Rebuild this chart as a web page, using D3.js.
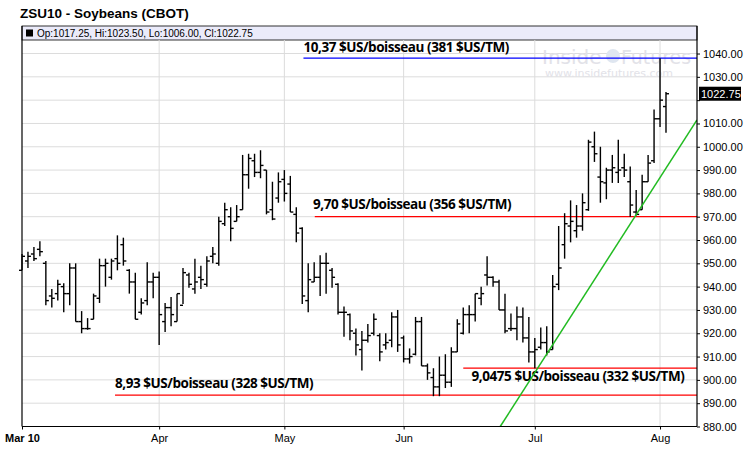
<!DOCTYPE html>
<html><head><meta charset="utf-8">
<script src="https://cdn.jsdelivr.net/npm/d3@7/dist/d3.min.js"></script>
<style>body{margin:0;background:#fff}svg{display:block}</style>
</head><body><svg id="c" width="748" height="449"></svg>
<script>
const opens=[947,951,954,956,950,936,937,940,937,948,925,922,926,935,949,944,952,958,947,942,929,934,942,944,925,931,925,932,945,939,944,941,953,950,967,970,968,973,988,994,989,990,973,978,986,984,971,965,934,942,944,950,947,941,929,928,920,913,917,920,919,915,917,927,918,909,911,925,906,901,897,902,899,912,920,928,928,935,945,944,942,930,922,922,927,918,912,914,916,913,941,958,966,964,966,973,1000,987,984.5,990,989,991,985,972,973,985,994,1012,1017.25];
const highs=[954,955,957,959.5,951,939,943,941.5,950,950,929.5,926.5,937,952,952,952,962,961,947.5,946,935,950.5,946,946.5,933,935.5,937,948,946,952,949,953,957,970,976,974,975,996.5,997,997,998.5,990,985,989,990,987.5,974,965.5,950,950.5,953.5,954.5,948,941.5,931.5,928.5,922,921,924,928.5,920,920,929,930,919,913.5,927,927,907,905,910,911,914,926,931,932,937,940,953,944.5,943,937,928.5,931.5,931,927,918,922.5,923,945,966,971.5,977,975,980,1003,1006.5,1000,991,996.5,1003,997,991.5,981.5,988,996.5,1016,1038,1023.5];
const lows=[947,948,951,953,932,931,934,929,932,925,920,921.5,926,933,940,943,947,949,937,926,928,932,935,915,920.5,923,925,932.5,939.5,937,939,940,950,949,966,959.5,968,973,982,987,986.5,971,968.5,976,976.5,972,959,932.5,929,942,936,937,939.5,928,918.5,917,910.5,904,916,919,908,913,914,912,907.5,907,910.5,906,900,893,893,896.5,897,912,919.5,920,925,932,940.5,940,930,920,921,917,916,907.5,905,913,910.5,913,938.5,952,959,961,964,972.5,993.5,976,977.5,984.5,984.5,987,970,970.5,973,985,993,1008.5,1006];
const closes=[953,953,952,955,934,935,941,937,948,925,922,922,936,949,950,951,950,951,942,926,933,942,944,928,931,928,937,946,941,942,943,951,954,968,973,965,970,988,995,989,992,972,969,985,980,972,963,936,943,944,950,950,944,929,929,921,915,917,919,926,912,916,927,915,909,910,925,906,903,897,902,899,912,924,928,928,937,937,944,942,930,921,922,927,918,912,913,916,912,940,948,967,968,966,976,1002,997,985,990,991,990,990,975,971,985,993,1012,1020,1022.75];
const monthLabels=["Mar 10","Apr","May","Jun","Jul","Aug"];
const monthIdx=[0,23,44,64,86,107];
const yTicks=[880,890,900,910,920,930,940,950,960,970,980,990,1000,1010,1020,1030,1040];
const levels=[{p:1038,start:47.2,color:"#0000ff",label:"10,37 $US/boisseau (381 $US/TM)"},
 {p:970,start:49.1,color:"#ff0000",label:"9,70 $US/boisseau (356 $US/TM)"},
 {p:905,start:74,color:"#ff0000",label:"9,0475 $US/boisseau (332 $US/TM)"},
 {p:893.5,start:15.6,color:"#ff0000",label:"8,93 $US/boisseau (328 $US/TM)"}];
const labelPos=[[47.2,1040.5],[48.8,973.5],[75.4,899.5],[15.6,896.5]];
const trend=[[80.2,880],[113.2,1011.5]];

const svg=d3.select("#c");
const L=22,R=697,T=40,B=426.5;
const x=d3.scaleLinear().domain([0,113.2]).range([L,R]);
const y=d3.scaleLinear().domain([880,1045.8]).range([B,T]);

svg.append("text").attr("x",20).attr("y",18).attr("font-family","Liberation Sans, Arial").attr("font-weight","bold").attr("font-size",13.5).text("ZSU10 - Soybeans (CBOT)");
svg.append("rect").attr("x",L).attr("y",26).attr("width",R-L).attr("height",14).attr("fill","#ebebfa").attr("stroke","#000").attr("stroke-width",0.8);
svg.append("rect").attr("x",26).attr("y",29.5).attr("width",7).attr("height",7).attr("fill","#000");
svg.append("text").attr("x",37).attr("y",37).attr("font-family","Liberation Sans, Arial").attr("font-size",10).text("Op:1017.25, Hi:1023.50, Lo:1006.00, Cl:1022.75");

const g=svg.append("g");
g.selectAll(".hg").data(yTicks).join("line").attr("x1",L).attr("x2",R).attr("y1",d=>y(d)).attr("y2",d=>y(d)).attr("stroke","#dcdcdc");
g.selectAll(".vg").data(monthIdx.slice(1)).join("line").attr("x1",d=>x(d)).attr("x2",d=>x(d)).attr("y1",T).attr("y2",B).attr("stroke","#dcdcdc");

// watermark
svg.append("text").attr("x",542).attr("y",64).attr("font-family","DejaVu Sans").attr("font-size",20).attr("fill","#e2e2e8").text("Inside");
svg.append("circle").attr("cx",613).attr("cy",56).attr("r",7).attr("fill","#dfe6f0");
svg.append("text").attr("x",621).attr("y",64).attr("font-family","DejaVu Sans").attr("font-size",20).attr("textLength",70).attr("lengthAdjust","spacingAndGlyphs").attr("fill","#e2e2e8").text("Futures");
svg.append("text").attr("x",545).attr("y",77).attr("font-family","DejaVu Sans").attr("font-size",11).attr("fill","#e2e2e8").text("www.insidefutures.com");

// levels
svg.selectAll(".lv").data(levels).join("line").attr("x1",d=>x(d.start)).attr("x2",R).attr("y1",d=>y(d.p)).attr("y2",d=>y(d.p)).attr("stroke",d=>d.color).attr("stroke-width",1.2);
svg.selectAll(".lt").data(levels).join("text").attr("x",(d,i)=>x(labelPos[i][0])).attr("y",(d,i)=>y(labelPos[i][1])).attr("font-family","Liberation Sans Narrow, Open Sans").attr("font-weight","bold").attr("font-size",13.5).attr("letter-spacing",-0.45).text(d=>d.label);

// bars
const idx=d3.range(opens.length);
const bars=svg.append("g").attr("stroke","#000").attr("stroke-width",1.4);
bars.selectAll(".hl").data(idx).join("line").attr("x1",i=>x(i)).attr("x2",i=>x(i)).attr("y1",i=>y(highs[i])).attr("y2",i=>y(lows[i]));
bars.selectAll(".op").data(idx).join("line").attr("x1",i=>x(i)-3).attr("x2",i=>x(i)).attr("y1",i=>y(opens[i])).attr("y2",i=>y(opens[i]));
bars.selectAll(".cl").data(idx).join("line").attr("x1",i=>x(i)).attr("x2",i=>x(i)+3).attr("y1",i=>y(closes[i])).attr("y2",i=>y(closes[i]));

// trend
svg.append("defs").append("clipPath").attr("id","cp").append("rect").attr("x",L).attr("y",T).attr("width",R-L).attr("height",B-T);
svg.append("line").attr("clip-path","url(#cp)").attr("x1",x(trend[0][0])).attr("y1",y(trend[0][1])).attr("x2",x(trend[1][0])).attr("y2",y(trend[1][1])).attr("stroke","#22bb22").attr("stroke-width",1.5);

// axes frame
svg.append("line").attr("x1",L).attr("x2",L).attr("y1",26).attr("y2",B).attr("stroke","#000").attr("stroke-width",1.2);
svg.append("line").attr("x1",R).attr("x2",R).attr("y1",26).attr("y2",B).attr("stroke","#000").attr("stroke-width",1.2);
svg.append("line").attr("x1",L).attr("x2",R).attr("y1",B).attr("y2",B).attr("stroke","#000").attr("stroke-width",1.2);

const last=closes[closes.length-1];
const ya=d3.axisRight(y).tickValues(yTicks).tickSize(3).tickFormat(d=>Math.abs(d-last)<6?"":d3.format(".2f")(d));
svg.append("g").attr("transform",`translate(${R},0)`).call(ya).call(a=>{a.select(".domain").remove();a.selectAll("text").attr("font-family","Liberation Sans Narrow, Arial").attr("font-size",11).attr("fill","#000");});
const xa=d3.axisBottom(x).tickValues(monthIdx).tickSize(3).tickFormat((d,i)=>monthLabels[i]);
svg.append("g").attr("transform",`translate(0,${B})`).call(xa).call(a=>{a.select(".domain").remove();a.selectAll("text").attr("font-family","Liberation Sans Narrow, Arial").attr("font-size",11).attr("fill","#000").attr("dy","0.9em").attr("font-weight",(d,i)=>i===0?"bold":"normal");});

// last price box
svg.append("rect").attr("x",R+2).attr("y",y(last)-7).attr("width",42).attr("height",14).attr("fill","#000");
svg.append("text").attr("x",R+4).attr("y",y(last)+4).attr("fill","#fff").attr("font-family","Liberation Sans Narrow, Arial").attr("font-size",11).text(d3.format(".2f")(last));
</script></body></html>
